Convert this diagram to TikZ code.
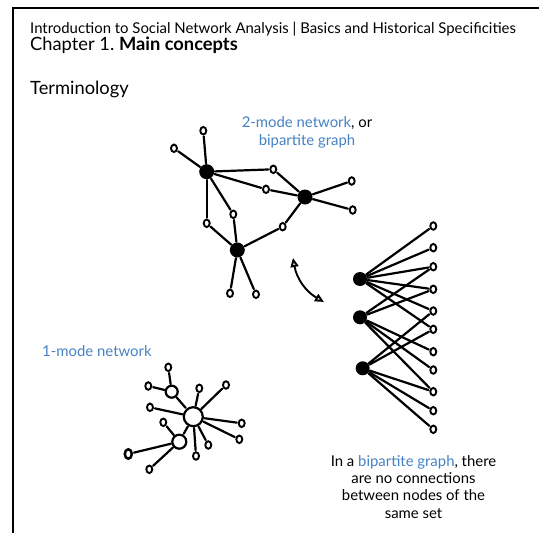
\documentclass[tikz,border=0pt]{standalone}
\usepackage{fontspec}
\setmainfont{Lato}
\usepackage{tikz}
\usetikzlibrary{shapes.geometric,arrows.meta}
\usepackage{xcolor}
\definecolor{bleulien}{RGB}{70,130,195}
\frenchspacing

\begin{document}
\begin{tikzpicture}[x=1pt,y=-1pt,
	hub/.style={circle,fill=black,inner sep=0pt,minimum size=15pt},
	rond/.style={circle,draw,line width=2.2pt,inner sep=0pt},
	leaf/.style={ellipse,draw,line width=1.9pt,inner sep=0pt,minimum width=6pt,minimum height=7.5pt},
	tie/.style={line width=2.2pt,line cap=round,shorten >=1pt,shorten <=0.5pt},
	txt/.style={inner sep=0pt,font=\fontsize{14.9}{17.3}\selectfont}]
			\useasboundingbox (0,0) rectangle (539,533);
			\draw[line width=2pt] (13,533) -- (13,8) -- (539,8);
			% titles
			\node[txt,anchor=base west] (titre) at (30,33.3) {Introduction to Social Network Analysis | Basics and Historical Specificities};
			\node[txt,anchor=base west,font=\fontsize{18.3}{20}\selectfont] (chapitre) at (30,50) {Chapter 1. \textbf{Main concepts}};
			\node[txt,anchor=base west,font=\fontsize{18.3}{20}\selectfont] (termes) at (30,94) {Terminology};
			% 2-mode network
			\node[hub] (a1) at (206.7,171.7) {};
			\node[hub] (a2) at (305,197) {};
			\node[hub] (a3) at (237.3,250) {};
			\foreach \Nombre/\x/\y in {1/203.3/130.7,2/174/148.3,3/273.3/169.3,4/266/189.3,5/351.7/181,6/352.7/210,7/233.3/214.3,8/206.7/223.3,9/282.7/226.7,10/230/293.3,11/256/294.3}
				\node[leaf] (m\Nombre) at (\x,\y) {};
			\foreach \a/\b in {a1/m1,a1/m2,a1/m3,a1/m4,a1/m7,a1/m8,a2/m3,a2/m4,a2/m5,a2/m6,a2/m9,a3/m8,a3/m7,a3/m9,a3/m10,a3/m11}
				\draw[tie] (\a) -- (\b);
			\node[txt,align=center,anchor=base] (deuxmode) at (307,145) {{\color{bleulien}2-mode network}, or\\{\color{bleulien}bipartite graph}};
			% arrow
			\coordinate (flecheA) at (293,258);
			\coordinate (flecheB) at (324,302);
			\draw[line width=1.9pt,{Triangle[open,length=9pt,width=8pt]}-{Triangle[open,length=9pt,width=8pt]}] (flecheA) to[bend right=25] (flecheB);
			% bipartite graph
			\node[hub,minimum size=14pt] (p1) at (360,279) {};
			\node[hub,minimum size=14pt] (p2) at (360,317.3) {};
			\node[hub,minimum size=14pt] (p3) at (362.7,368.3) {};
			\foreach \Nombre/\y in {1/226,2/247.7,3/266.7,4/289.3,5/311,6/329.3,7/351.7,8/370,9/391.7,10/410.7,11/429.3}
				\node[leaf] (c\Nombre) at (433.3,\y) {};
			\foreach \a/\b in {p1/c1,p1/c2,p1/c3,p1/c4,p1/c5,p1/c6,p2/c3,p2/c4,p2/c7,p2/c8,p2/c9,p3/c5,p3/c6,p3/c9,p3/c10,p3/c11}
				\draw[tie] (\a) -- (\b);
			\node[txt,align=center,anchor=base] (bipartite) at (413.5,518) {In a {\color{bleulien}bipartite graph}, there\\are no connections\\between nodes of the\\same set};
			% 1-mode network
			\node[txt,anchor=base west,text=bleulien] (unmode) at (42,356) {1-mode network};
			\node[rond,minimum size=19pt] (o1) at (193.3,416.7) {};
			\node[rond,minimum size=12pt] (o2) at (171.7,391.7) {};
			\node[rond,minimum size=14pt] (o3) at (179.3,441.7) {};
			\foreach \Nombre/\x/\y in {1/168.3/367.3,2/148.3/386,3/199.3/388.3,4/226/385,5/150/407.3,6/163.3/422.3,7/241.7/423.3,8/239.3/439.3,9/208.3/445,10/196/456,12/149.3/469.3}
				\node[leaf] (s\Nombre) at (\x,\y) {};
			\node[leaf,minimum width=7pt,minimum height=9.5pt,line width=2.5pt] (s11) at (128.3,454) {};
			\foreach \a/\b in {o2/s1,o2/s2,o2/o1,o1/s3,o1/s4,o1/s5,o1/s7,o1/s8,o1/s9,o1/o3,o1/s10,o3/s6,o3/s11,o3/s12}
				\draw[tie] (\a) -- (\b);
		\end{tikzpicture}
\end{document}
